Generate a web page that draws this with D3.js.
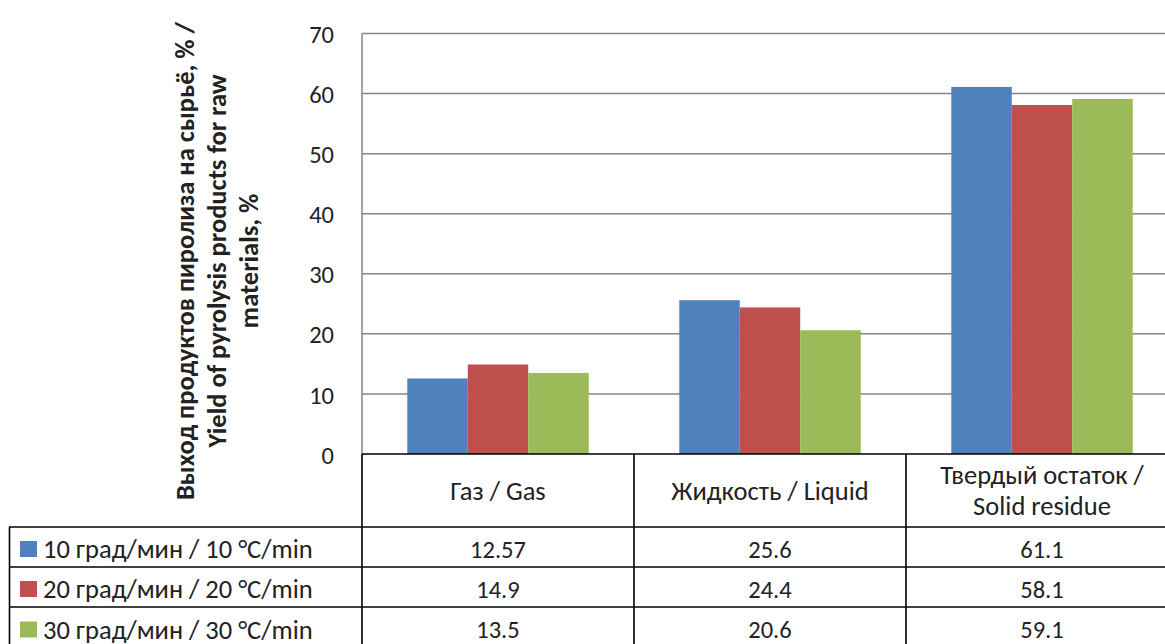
<!DOCTYPE html>
<html><head><meta charset="utf-8">
<script src="https://cdn.jsdelivr.net/npm/d3@7"></script>
<style>body{margin:0;background:#fff}svg{display:block}text{font-family:Carlito,"Open Sans",sans-serif;fill:#222}</style>
</head><body><svg id="c" width="1165" height="644"></svg>
<script>
const categories = ["Газ / Gas", "Жидкость / Liquid", "Твердый остаток / Solid residue"];
const categoryLines = [["Газ / Gas"], ["Жидкость / Liquid"], ["Твердый остаток /", "Solid residue"]];
const seriesNames = ["10 град/мин / 10 °C/min", "20 град/мин / 20 °C/min", "30 град/мин / 30 °C/min"];
const series10 = [12.57, 25.6, 61.1];
const series20 = [14.9, 24.4, 58.1];
const series30 = [13.5, 20.6, 59.1];
const seriesLabels = [["12.57","25.6","61.1"],["14.9","24.4","58.1"],["13.5","20.6","59.1"]];
const yTicks = [0, 10, 20, 30, 40, 50, 60, 70];
const colors = ["#4F81BD", "#C0504D", "#9BBB59"];
const yTitle = ["Выход продуктов пиролиза на сырьё, % /", "Yield of pyrolysis products for raw", "materials, %"];

const seriesVals = [series10, series20, series30];
const svg = d3.select("#c");
const pLeft = 362, pTop = 33.5, pBottom = 454, catW = 272;
const FN = 24.5, FT = 26.5;
const x = d3.scaleBand().domain(categories).range([pLeft, pLeft + catW*3]);
const xi = d3.scaleBand().domain([0,1,2]).range([45.3, 226.7]);
const y = d3.scaleLinear().domain([0, 70]).range([pBottom, pTop]);

svg.append("g").selectAll("line").data(yTicks.filter(d => d > 0)).join("line")
  .attr("x1", pLeft).attr("x2", 1165).attr("y1", d => y(d)).attr("y2", d => y(d))
  .attr("stroke", "#868686").attr("stroke-width", 1.5);
svg.append("line").attr("x1", pLeft).attr("x2", pLeft).attr("y1", y(70)).attr("y2", pBottom)
  .attr("stroke", "#868686").attr("stroke-width", 1.5);

svg.append("g").selectAll("text").data(yTicks).join("text")
  .attr("x", 334).attr("y", d => y(d) + 1.5).attr("dy", "0.33em").attr("text-anchor", "end")
  .style("font-size", FN + "px").text(d => d);

seriesVals.forEach((vals, s) => {
  svg.append("g").selectAll("rect").data(vals).join("rect")
    .attr("x", (d, i) => x(categories[i]) + xi(s))
    .attr("width", xi.bandwidth())
    .attr("y", d => y(d)).attr("height", d => pBottom - y(d))
    .attr("fill", colors[s]);
});

const tg = svg.append("g").attr("transform", "translate(217,261) rotate(-90)");
yTitle.forEach((t, i) => {
  tg.append("text").attr("x", 0).attr("y", (i - 1) * 32).attr("dy", "0.33em")
    .attr("text-anchor", "middle").style("font-size", FT + "px").style("font-weight", "bold").text(t);
});

const rowY = [454, 527, 567, 607, 648];
const tbl = svg.append("g");
const stroke = "#000";
tbl.append("line").attr("x1", pLeft).attr("x2", 1165).attr("y1", rowY[0]).attr("y2", rowY[0]).attr("stroke", stroke).attr("stroke-width", 1.6);
[1,2,3].forEach(r => tbl.append("line").attr("x1", 9).attr("x2", 1165).attr("y1", rowY[r]).attr("y2", rowY[r]).attr("stroke", stroke).attr("stroke-width", 1.6));
tbl.append("line").attr("x1", 9.5).attr("x2", 9.5).attr("y1", rowY[1]).attr("y2", 644).attr("stroke", stroke).attr("stroke-width", 1.6);
[0,1,2,3].forEach(c => {
  const xx = pLeft + c*catW;
  tbl.append("line").attr("x1", xx).attr("x2", xx).attr("y1", rowY[0]).attr("y2", 644).attr("stroke", stroke).attr("stroke-width", 1.6);
});
categories.forEach((c, i) => {
  const lines = categoryLines[i];
  const cx = x(c) + catW/2, cy = 491;
  lines.forEach((l, j) => {
    tbl.append("text").attr("x", cx).attr("y", cy + (j - (lines.length-1)/2) * 31.5).attr("dy", "0.33em")
      .attr("text-anchor", "middle").style("font-size", FT + "px").text(l);
  });
});
seriesNames.forEach((n, s) => {
  const cy = (rowY[s+1] + Math.min(rowY[s+2], 650)) / 2 + 2.5;
  tbl.append("rect").attr("x", 20).attr("y", cy - 8.5).attr("width", 17).attr("height", 16).attr("fill", colors[s]);
  tbl.append("text").attr("x", 43).attr("y", cy).attr("dy", "0.33em").style("font-size", FT + "px").text(n);
  seriesLabels[s].forEach((v, i) => {
    tbl.append("text").attr("x", x(categories[i]) + catW/2).attr("y", cy).attr("dy", "0.33em")
      .attr("text-anchor", "middle").style("font-size", FN + "px").text(v);
  });
});
</script></body></html>
